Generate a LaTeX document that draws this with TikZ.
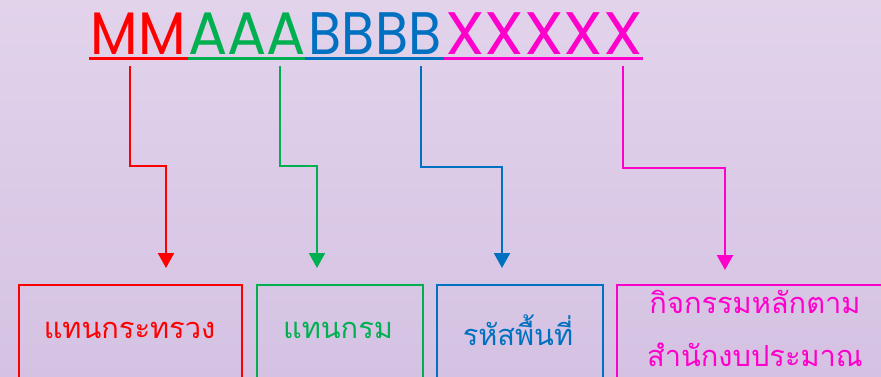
\documentclass[tikz,border=0pt]{standalone}
\usepackage{fontspec}
\usetikzlibrary{arrows.meta}
\newfontfamily\thaifont[Script=Thai]{Loma}
\newfontfamily\titlefont{Poppins}
\definecolor{cred}{RGB}{255,0,0}
\definecolor{cgreen}{RGB}{0,176,80}
\definecolor{cblue}{RGB}{0,112,192}
\definecolor{cmag}{RGB}{255,0,204}
\definecolor{bgtop}{RGB}{226,211,235}
\definecolor{bgbot}{RGB}{213,194,227}
\begin{document}
\begin{tikzpicture}[x=1pt,y=-1pt,
  titletext/.style={inner sep=0pt,anchor=base,font=\titlefont\fontsize{60}{60}\selectfont},
  uline/.style={line width=3pt},
  conn/.style={line width=2.2pt,-{Triangle[width=16pt,length=15pt]}},
  catbox/.style={draw,line width=1.6pt,inner sep=0pt,anchor=north west},
  cattext/.style={inner sep=0pt,font=\thaifont\fontsize{29}{29}\selectfont}]
\shade[top color=bgtop,bottom color=bgbot] (0,0) rectangle (881,377);
\useasboundingbox (0,0) rectangle (881,377);
% title
\node[titletext,text=cred,xscale=0.92] (tm) at (138,55) {MM};
\node[titletext,text=cgreen,xscale=0.97] (ta) at (247,55) {AAA};
\node[titletext,text=cblue,xscale=0.9] (tb) at (375,55) {BBBB};
\node[titletext,text=cmag,xscale=1.06] (tx) at (544,55) {XXXXX};
\draw[uline,cred] (89,59) -- (188,59);
\draw[uline,cgreen] (188,59) -- (305,59);
\draw[uline,cblue] (305,59) -- (444,59);
\draw[uline,cmag] (444,59) -- (643,59);
% stem starts
\coordinate (sm) at (130,66);
\coordinate (sa) at (280,66);
\coordinate (sb) at (421,66);
\coordinate (sx) at (623,66);
% boxes
\node[catbox,cred,minimum width=223pt,minimum height=110pt] (bm) at (18,284) {};
\node[catbox,cgreen,minimum width=166pt,minimum height=110pt] (ba) at (256,284) {};
\node[catbox,cblue,minimum width=166pt,minimum height=110pt] (bb) at (436,284) {};
\node[catbox,cmag,minimum width=280pt,minimum height=110pt] (bx) at (616,284) {};
% arrow targets
\coordinate (em) at (166,268);
\coordinate (ea) at (317,268);
\coordinate (eb) at (502,268);
\coordinate (ex) at (725,270);
\draw[conn,cred] (sm) |- (130,166) -| (em);
\draw[conn,cgreen] (sa) |- (280,166) -| (ea);
\draw[conn,cblue] (sb) |- (421,167) -| (eb);
\draw[conn,cmag] (sx) |- (623,168) -| (ex);
% texts
\node[cattext,text=cred] (lm) at (129.5,330) {แทนกระทรวง};
\node[cattext,text=cgreen] (la) at (338,330) {แทนกรม};
\node[cattext,text=cblue] (lb) at (518,330) {รหัสพื้นที่};
\node[cattext,text=cmag] (lx1) at (755,302) {กิจกรรมหลักตาม};
\node[cattext,text=cmag] (lx2) at (755,355) {สำนักงบประมาณ};
\end{tikzpicture}
\end{document}
